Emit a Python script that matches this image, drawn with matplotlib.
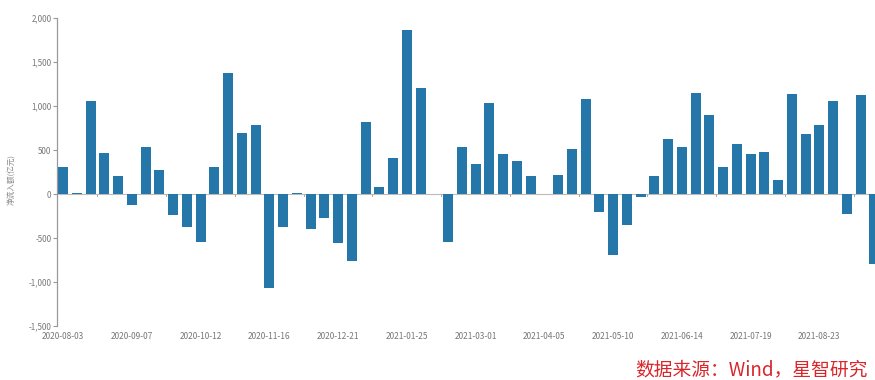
import matplotlib
matplotlib.use("Agg")
import matplotlib.pyplot as plt
import pandas as pd
from matplotlib.ticker import FuncFormatter

plt.rcParams['font.family'] = ['Noto Sans CJK SC', 'DejaVu Sans']

weeks = pd.date_range("2020-08-03", periods=60, freq="7D")
values = [310, 15, 1060, 470, 200, -120, 530, 270, -240, -380,
          -550, 310, 1370, 690, 780, -1070, -370, 15, -400, -270,
          -560, -760, 820, 80, 410, 1860, 1200, -5, -550, 530,
          340, 1030, 460, 380, 200, 5, 220, 510, 1080, -210,
          -690, -350, -30, 200, 630, 530, 1150, 900, 310, 570,
          460, 480, 160, 1140, 680, 780, 1060, -230, 1130, -790]
y_ticks = [-1500, -1000, -500, 0, 500, 1000, 1500, 2000]
y_label = "净流入额(亿元)"
source = "数据来源：Wind，星智研究"

fig = plt.figure(figsize=(8.75, 3.8), dpi=100)
ax = fig.add_axes([57/875, 1-326/380, 1-57/875, (326-18)/380])

x = list(range(len(values)))
ax.bar(x, values, width=0.73, color="#2477a8", zorder=2)
ax.axhline(0, color="#bbbbbb", lw=0.8, zorder=1)

ax.set_xlim(-0.44, 59.05)
ax.set_ylim(-1500, 2000)
ax.set_yticks(y_ticks)
ax.yaxis.set_major_formatter(FuncFormatter(lambda v, p: f"{int(v):,}"))

tick_pos = list(range(0, len(values), 5))
ax.set_xticks(tick_pos)
ax.set_xticklabels([weeks[i].strftime("%Y-%m-%d") for i in tick_pos])
ax.tick_params(axis='x', length=0, labelsize=6, labelcolor="#777777", pad=4)
ax.tick_params(axis='y', length=3, width=0.8, color="#999999",
               labelsize=5.8, labelcolor="#777777", pad=1)

for s in ["top", "right", "bottom"]:
    ax.spines[s].set_visible(False)
ax.spines["left"].set_color("#999999")
ax.spines["left"].set_linewidth(0.9)

# small ticks on the zero line
for k in range(12):
    ax.plot([2.5 + 5*k]*2, [0, -25], color="#aaaaaa", lw=0.7, zorder=1)

fig.text(12/875, 1-180/380, y_label, rotation=90, ha='center', va='center',
         fontsize=5.5, color="#888888")
fig.text(868/875, 1-370/380, source, ha='right', va='center',
         fontsize=13.5, color="#d8262b", style='italic')

fig.savefig("out.png", dpi=100)
